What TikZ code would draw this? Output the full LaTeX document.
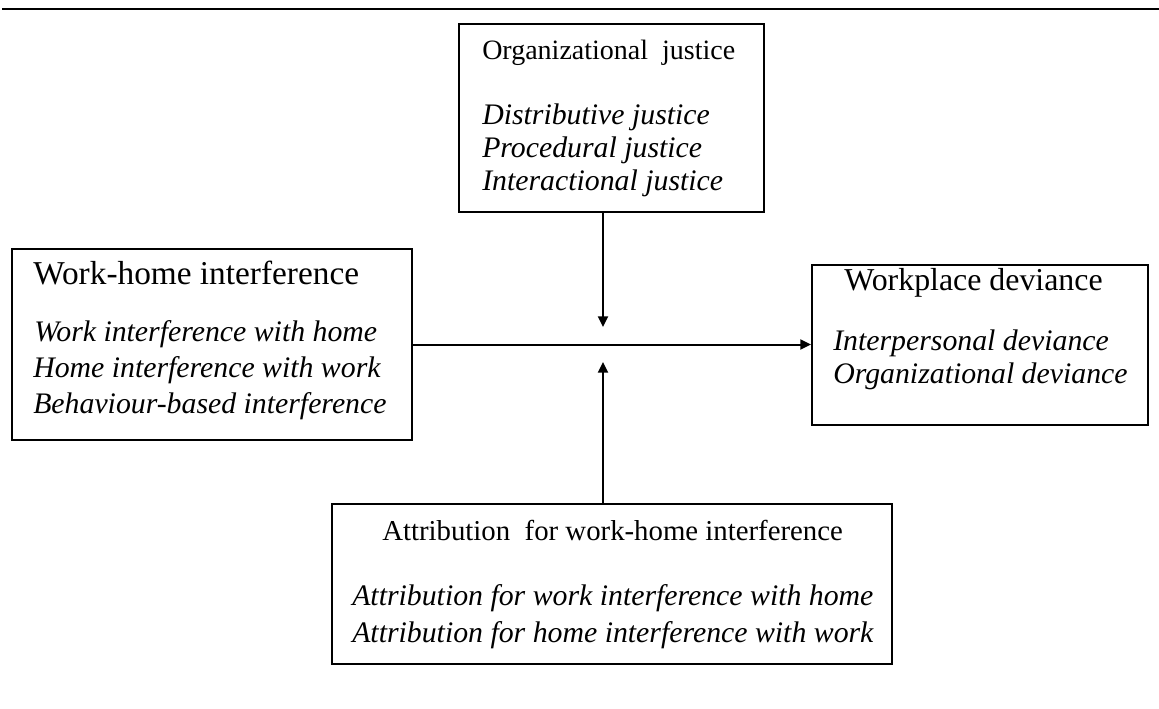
\documentclass[tikz,border=0pt]{standalone}
\usepackage{fontspec}
\setmainfont{Liberation Serif}
\usetikzlibrary{arrows.meta}
\begin{document}
\begin{tikzpicture}[x=0.75pt,y=-0.75pt,
  box/.style={draw, line width=1.5pt, inner sep=0pt, rectangle},
  ttl/.style={anchor=base west, inner sep=0pt},
  itl/.style={anchor=base west, inner sep=0pt, font=\fontsize{22.35}{26}\selectfont\itshape},
  link/.style={line width=1.5pt, -{Triangle[length=8pt,width=7.5pt]}}]
\useasboundingbox (0,0) rectangle (1159,709);

% rule across the top
\coordinate (rl) at (2,9);
\coordinate (rr) at (1159,9);
\draw[line width=2pt] (rl) -- (rr);

% boxes
\node[box, minimum width=228.75pt, minimum height=141pt] (oj) at (611.5,118) {};
\node[box, minimum width=300pt, minimum height=143.25pt] (wh) at (212,344.5) {};
\node[box, minimum width=252pt, minimum height=120pt] (wd) at (980,344.5) {};
\node[box, minimum width=420pt, minimum height=120pt] (at) at (612,584) {};

% organizational justice
\node[ttl, font=\fontsize{21}{25}\selectfont] (ojt) at (482,60) {Organizational\ \ justice};
\node[itl] (oj1) at (482,125) {Distributive justice};
\node[itl] (oj2) at (482,158) {Procedural justice};
\node[itl] (oj3) at (482,191) {Interactional justice};

% work-home interference
\node[ttl, font=\fontsize{25}{29}\selectfont] (wht) at (33,284) {Work-home interference};
\node[itl] (wh1) at (34,341) {Work interference with home};
\node[itl] (wh2) at (33,377) {Home interference with work};
\node[itl] (wh3) at (33,413) {Behaviour-based interference};

% workplace deviance
\node[ttl, font=\fontsize{23.9}{28}\selectfont] (wdt) at (844,290) {Workplace deviance};
\node[itl] (wd1) at (833,350) {Interpersonal deviance};
\node[itl] (wd2) at (833,383) {Organizational deviance};

% attribution
\node[ttl, font=\fontsize{21.6}{25}\selectfont] (att) at (382,540) {Attribution\ \ for work-home interference};
\node[itl] (at1) at (352,605) {Attribution for work interference with home};
\node[itl] (at2) at (352,642) {Attribution for home interference with work};

% connectors
\coordinate (tipd) at (603,327);
\coordinate (tipu) at (603,362);
\draw[link] (wh.east) -- (wh.east -| wd.west);
\draw[link] (oj.south -| tipd) -- (tipd);
\draw[link] (at.north -| tipu) -- (tipu);
\end{tikzpicture}
\end{document}
